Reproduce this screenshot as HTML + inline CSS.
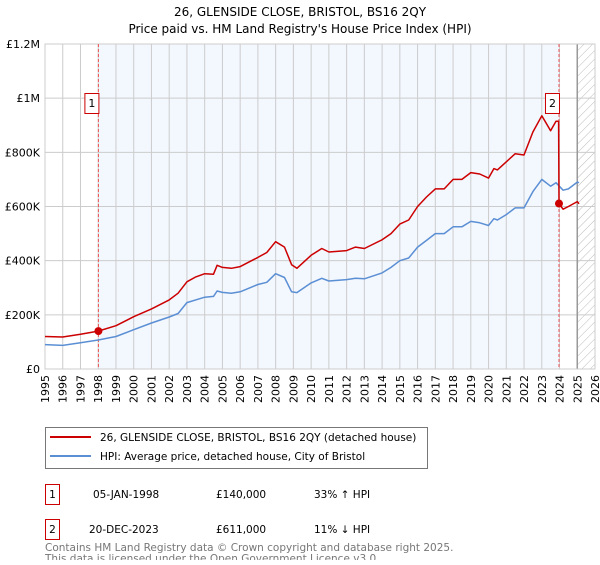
<!DOCTYPE html>
<html><head><meta charset="utf-8"><style>
body{margin:0;background:#fff;font-family:"Liberation Sans","DejaVu Sans",sans-serif;}
svg text{font-family:"DejaVu Sans","Liberation Sans",sans-serif;}
</style></head><body>
<svg id="c" width="600" height="560" xmlns="http://www.w3.org/2000/svg">
<defs><pattern id="hatch" width="6" height="6" patternUnits="userSpaceOnUse" patternTransform="rotate(45)"><line x1="0" y1="0" x2="0" y2="6" stroke="#bbb" stroke-width="1"/></pattern></defs>
<text x="300" y="16" text-anchor="middle" font-size="12" fill="#000">26, GLENSIDE CLOSE, BRISTOL, BS16 2QY</text>
<text x="300" y="33" text-anchor="middle" font-size="12" fill="#000">Price paid vs. HM Land Registry's House Price Index (HPI)</text>
<g id="plot"></g>
<g>
<rect x="45.5" y="427.5" width="382" height="41" fill="#fff" stroke="#777"/>
<line x1="50" y1="437" x2="91" y2="437" stroke="#cc0000" stroke-width="2"/>
<text x="100" y="441" font-size="10.5">26, GLENSIDE CLOSE, BRISTOL, BS16 2QY (detached house)</text>
<line x1="50" y1="456" x2="91" y2="456" stroke="#5b8fd4" stroke-width="2"/>
<text x="100" y="460" font-size="10.5">HPI: Average price, detached house, City of Bristol</text>
</g>
<g font-size="10.5">
<rect x="45.5" y="484.5" width="14" height="20" fill="#fff" stroke="#cc0000"/>
<text x="52.5" y="498" text-anchor="middle">1</text>
<text x="93" y="498">05-JAN-1998</text><text x="216" y="498">£140,000</text><text x="314" y="498">33% ↑ HPI</text>
<rect x="45.5" y="519.5" width="14" height="20" fill="#fff" stroke="#cc0000"/>
<text x="52.5" y="533" text-anchor="middle">2</text>
<text x="89" y="533">20-DEC-2023</text><text x="216" y="533">£611,000</text><text x="314" y="533">11% ↓ HPI</text>
</g>
<text x="45" y="551" font-size="10.5" fill="#777">Contains HM Land Registry data © Crown copyright and database right 2025.</text>
<text x="45" y="562" font-size="10.5" fill="#777">This data is licensed under the Open Government Licence v3.0.</text>
</svg>
<script>
const priceYears=[1995,1996,1997,1998,1999,2000,2001,2002,2002.5,2003,2003.5,2004,2004.5,2004.7,2005,2005.5,2006,2007,2007.5,2008,2008.5,2008.9,2009.2,2010,2010.6,2011,2012,2012.5,2013,2014,2014.5,2015,2015.5,2016,2016.5,2017,2017.5,2018,2018.5,2019,2019.5,2020,2020.3,2020.5,2021,2021.5,2022,2022.5,2023,2023.5,2023.8,2023.95,2023.97,2024.2,2024.5,2025,2025.1];
const priceValues=[120,118,128,140,160,193,222,255,280,322,340,352,350,383,375,372,378,412,430,470,450,385,372,420,445,432,437,450,445,477,500,535,550,600,635,665,665,700,700,725,720,705,740,735,765,795,790,875,935,880,915,915,611,590,600,618,610];
const hpiYears=[1995,1996,1997,1998,1999,2000,2001,2002,2002.5,2003,2004,2004.5,2004.7,2005,2005.5,2006,2007,2007.5,2008,2008.5,2008.9,2009.2,2010,2010.6,2011,2012,2012.5,2013,2014,2014.5,2015,2015.5,2016,2016.5,2017,2017.5,2018,2018.5,2019,2019.5,2020,2020.3,2020.5,2021,2021.5,2022,2022.5,2023,2023.5,2023.8,2024.2,2024.5,2025,2025.1];
const hpiValues=[90,87,97,107,120,145,170,192,205,245,265,268,288,283,280,285,312,320,352,338,285,282,318,335,325,330,335,333,355,375,400,410,450,475,500,500,525,525,545,540,530,555,550,570,595,595,655,700,675,688,660,665,690,688];
const yTicks=[0,200,400,600,800,1000,1200];
const yTickLabels=["£0","£200K","£400K","£600K","£800K","£1M","£1.2M"];
const xTicks=[1995,1996,1997,1998,1999,2000,2001,2002,2003,2004,2005,2006,2007,2008,2009,2010,2011,2012,2013,2014,2015,2016,2017,2018,2019,2020,2021,2022,2023,2024,2025,2026];
const saleYears=[1998.01,2023.97];
const saleValues=[140,611];
const saleLabels=["1","2"];

const X0=45,X1=595,Y0=369,Y1=44;
const xs=y=>X0+(y-1995)/(2026-1995)*(X1-X0);
const ys=v=>Y0-v/1200*(Y0-Y1);
const NS="http://www.w3.org/2000/svg";
const g=document.getElementById('plot');
function mk(t,a,p){const e=document.createElementNS(NS,t);for(const k in a)e.setAttribute(k,a[k]);(p||g).appendChild(e);return e;}
let e;
e=mk('rect',{x:xs(1998.01),y:Y1,width:xs(2023.97)-xs(1998.01),height:Y0-Y1,fill:'#eef3fd',opacity:0.7});


e=mk('rect',{x:xs(2025),y:Y1,width:X1-xs(2025),height:Y0-Y1,fill:'url(#hatch)'});


xTicks.forEach((t,i)=>{
 e=mk('line',{x1:xs(t),x2:xs(t),y1:Y1,y2:Y0,stroke:'#ccc','stroke-width':1});
 
 
 e=mk('text',{x:0,y:0,'font-size':11,'text-anchor':'end',transform:`translate(${xs(t)+4},${Y0+6}) rotate(-90)`});
 e.textContent=t;
 
 
});
yTicks.forEach((t,i)=>{
 e=mk('line',{x1:X0,x2:X1,y1:ys(t),y2:ys(t),stroke:'#ccc','stroke-width':1});
 
 
 e=mk('text',{x:X0-5,y:ys(t)+4,'font-size':11,'text-anchor':'end'});
 e.textContent=yTickLabels[i];
 
 
});
e=mk('line',{x1:xs(2025),x2:xs(2025),y1:Y1,y2:Y0,stroke:'#999','stroke-width':1.5});


e=mk('rect',{x:X0,y:Y1,width:X1-X0,height:Y0-Y1,fill:'none',stroke:'#ccc'});


saleYears.forEach((s,i)=>{
 e=mk('line',{x1:xs(s),x2:xs(s),y1:Y1,y2:Y0,stroke:'#e55','stroke-width':1,'stroke-dasharray':'3,2'});
 
 
});
function path(xa,va,col,name){
 const d=xa.map((x,i)=>(i?'L':'M')+xs(x).toFixed(1)+','+ys(va[i]).toFixed(1)).join('');
 e=mk('path',{d:d,fill:'none',stroke:col,'stroke-width':1.5,'stroke-linejoin':'round'});
 
 
}
path(hpiYears,hpiValues,'#5b8fd4','hpi-line');
path(priceYears,priceValues,'#cc0000','price-line');
saleYears.forEach((s,i)=>{
 e=mk('circle',{cx:xs(s),cy:ys(saleValues[i]),r:4,fill:'#cc0000'});
 
 
 const bx=xs(s)-13;
 e=mk('rect',{x:bx-0.5,y:93.5,width:14,height:20,fill:'#fff',stroke:'#cc0000'});
 
 
 e=mk('text',{x:bx+6.5,y:107,'font-size':11,'text-anchor':'middle'});
 e.textContent=saleLabels[i];
 
 
});
</script>
</body></html>
